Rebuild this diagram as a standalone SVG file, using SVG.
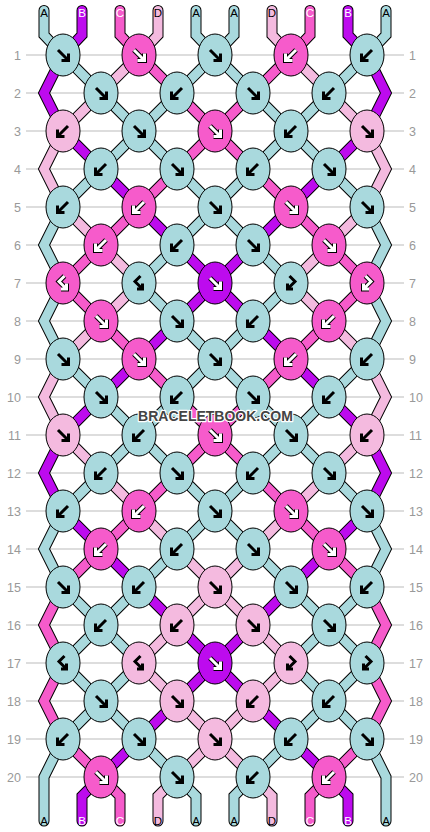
<svg xmlns="http://www.w3.org/2000/svg" width="430" height="832" viewBox="0 0 430 832">
<style>
.g{stroke:#bbb;stroke-width:1}
.n{font:12.5px "Liberation Sans",Arial,sans-serif;fill:#999}
.nl{text-anchor:end}
.lb{font:11.5px "Liberation Sans",Arial,sans-serif;text-anchor:middle}
.lk{fill:#000}.lw{fill:#fff}
.o{fill:none;stroke:#000;stroke-width:11;stroke-linejoin:miter;stroke-linecap:round}
.t{fill:none;stroke-width:9;stroke-linejoin:miter;stroke-linecap:round}
.sA{stroke:#a9d9dd}.sB{stroke:#bd0bee}.sC{stroke:#f65bcb}.sD{stroke:#f4badf}
ellipse{stroke:#000;stroke-width:1}
.A{fill:#a9d9dd}.B{fill:#bd0bee}.C{fill:#f65bcb}.D{fill:#f4badf}
.ab{fill:none;stroke:#000;stroke-width:3}
.ao{fill:none;stroke:#000;stroke-width:5}
.aw{fill:none;stroke:#fff;stroke-width:3}
.wm{font:bold 14px "Liberation Sans",Arial,sans-serif;fill:#444;stroke:#fff;stroke-width:2.5;paint-order:stroke;stroke-linejoin:round;text-anchor:middle}
</style>
<defs>
<path id="F" d="M-5,-5 L5,5 M-1.5,5.5 L5.5,5.5 L5.5,-1.5"/>
<path id="Bk" d="M5,-5 L-5,5 M1.5,5.5 L-5.5,5.5 L-5.5,-1.5"/>
<path id="BF" d="M1.5,-7 L-4,-1.5 L3,5.5 M-2,6 L3.5,6 L3.5,0.5"/>
<path id="FB" d="M-1.5,-7 L4,-1.5 L-3,5.5 M2,6 L-3.5,6 L-3.5,0.5"/>
</defs>
<g id="grid">
<line class="g" x1="26" y1="55" x2="404" y2="55"/><line class="g" x1="26" y1="93" x2="404" y2="93"/><line class="g" x1="26" y1="131" x2="404" y2="131"/><line class="g" x1="26" y1="169" x2="404" y2="169"/><line class="g" x1="26" y1="207" x2="404" y2="207"/><line class="g" x1="26" y1="245" x2="404" y2="245"/><line class="g" x1="26" y1="283" x2="404" y2="283"/><line class="g" x1="26" y1="321" x2="404" y2="321"/><line class="g" x1="26" y1="359" x2="404" y2="359"/><line class="g" x1="26" y1="397" x2="404" y2="397"/><line class="g" x1="26" y1="435" x2="404" y2="435"/><line class="g" x1="26" y1="473" x2="404" y2="473"/><line class="g" x1="26" y1="511" x2="404" y2="511"/><line class="g" x1="26" y1="549" x2="404" y2="549"/><line class="g" x1="26" y1="587" x2="404" y2="587"/><line class="g" x1="26" y1="625" x2="404" y2="625"/><line class="g" x1="26" y1="663" x2="404" y2="663"/><line class="g" x1="26" y1="701" x2="404" y2="701"/><line class="g" x1="26" y1="739" x2="404" y2="739"/><line class="g" x1="26" y1="777" x2="404" y2="777"/>
</g>
<g id="rownums">
<text class="n nl" x="21" y="59.5">1</text><text class="n nl" x="21" y="97.5">2</text><text class="n nl" x="21" y="135.5">3</text><text class="n nl" x="21" y="173.5">4</text><text class="n nl" x="21" y="211.5">5</text><text class="n nl" x="21" y="249.5">6</text><text class="n nl" x="21" y="287.5">7</text><text class="n nl" x="21" y="325.5">8</text><text class="n nl" x="21" y="363.5">9</text><text class="n nl" x="21" y="401.5">10</text><text class="n nl" x="21" y="439.5">11</text><text class="n nl" x="21" y="477.5">12</text><text class="n nl" x="21" y="515.5">13</text><text class="n nl" x="21" y="553.5">14</text><text class="n nl" x="21" y="591.5">15</text><text class="n nl" x="21" y="629.5">16</text><text class="n nl" x="21" y="667.5">17</text><text class="n nl" x="21" y="705.5">18</text><text class="n nl" x="21" y="743.5">19</text><text class="n nl" x="21" y="781.5">20</text>
<text class="n" x="409" y="59.5">1</text><text class="n" x="409" y="97.5">2</text><text class="n" x="409" y="135.5">3</text><text class="n" x="409" y="173.5">4</text><text class="n" x="409" y="211.5">5</text><text class="n" x="409" y="249.5">6</text><text class="n" x="409" y="287.5">7</text><text class="n" x="409" y="325.5">8</text><text class="n" x="409" y="363.5">9</text><text class="n" x="409" y="401.5">10</text><text class="n" x="409" y="439.5">11</text><text class="n" x="409" y="477.5">12</text><text class="n" x="409" y="515.5">13</text><text class="n" x="409" y="553.5">14</text><text class="n" x="409" y="591.5">15</text><text class="n" x="409" y="629.5">16</text><text class="n" x="409" y="667.5">17</text><text class="n" x="409" y="705.5">18</text><text class="n" x="409" y="743.5">19</text><text class="n" x="409" y="781.5">20</text>
</g>
<g id="connectors">
<path id="t0o" class="o" d="M44,10.5 V35 L63,55 L101,93 L139,131 L177,169 L215,207 L253,245 L291,283 L253,321 L215,359 L177,397 L139,435 L101,473 L63,511 L44,549 L63,587 L101,625 L139,663 L101,701 L63,739 L44,777 V821"/>
<path class="t sA" d="M44,10.5 V35 L63,55 L101,93 L139,131 L177,169 L215,207 L253,245 L291,283 L253,321 L215,359 L177,397 L139,435 L101,473 L63,511 L44,549 L63,587 L101,625 L139,663 L101,701 L63,739 L44,777 V821"/>
<path class="o" d="M82,10.5 V35 L63,55 L44,93 L63,131 L101,169 L139,207 L177,245 L215,283 L253,321 L291,359 L329,397 L367,435 L386,473 L367,511 L329,549 L291,587 L253,625 L215,663 L177,701 L139,739 L101,777 L82,796 V821"/>
<path class="t sB" d="M82,10.5 V35 L63,55 L44,93 L63,131 L101,169 L139,207 L177,245 L215,283 L253,321 L291,359 L329,397 L367,435 L386,473 L367,511 L329,549 L291,587 L253,625 L215,663 L177,701 L139,739 L101,777 L82,796 V821"/>
<path class="o" d="M120,10.5 V35 L139,55 L177,93 L215,131 L253,169 L291,207 L329,245 L367,283 L329,321 L291,359 L253,397 L215,435 L177,473 L139,511 L101,549 L63,587 L44,625 L63,663 L44,701 L63,739 L101,777 L120,796 V821"/>
<path class="t sC" d="M120,10.5 V35 L139,55 L177,93 L215,131 L253,169 L291,207 L329,245 L367,283 L329,321 L291,359 L253,397 L215,435 L177,473 L139,511 L101,549 L63,587 L44,625 L63,663 L44,701 L63,739 L101,777 L120,796 V821"/>
<path class="o" d="M158,10.5 V35 L139,55 L101,93 L63,131 L44,169 L63,207 L101,245 L139,283 L101,321 L63,359 L44,397 L63,435 L101,473 L139,511 L177,549 L215,587 L253,625 L291,663 L253,701 L215,739 L177,777 L158,796 V821"/>
<path class="t sD" d="M158,10.5 V35 L139,55 L101,93 L63,131 L44,169 L63,207 L101,245 L139,283 L101,321 L63,359 L44,397 L63,435 L101,473 L139,511 L177,549 L215,587 L253,625 L291,663 L253,701 L215,739 L177,777 L158,796 V821"/>
<path class="o" d="M196,10.5 V35 L215,55 L253,93 L291,131 L329,169 L367,207 L386,245 L367,283 L386,321 L367,359 L329,397 L291,435 L253,473 L215,511 L177,549 L139,587 L101,625 L63,663 L101,701 L139,739 L177,777 L196,796 V821"/>
<path class="t sA" d="M196,10.5 V35 L215,55 L253,93 L291,131 L329,169 L367,207 L386,245 L367,283 L386,321 L367,359 L329,397 L291,435 L253,473 L215,511 L177,549 L139,587 L101,625 L63,663 L101,701 L139,739 L177,777 L196,796 V821"/>
<path class="o" d="M234,10.5 V35 L215,55 L177,93 L139,131 L101,169 L63,207 L44,245 L63,283 L44,321 L63,359 L101,397 L139,435 L177,473 L215,511 L253,549 L291,587 L329,625 L367,663 L329,701 L291,739 L253,777 L234,796 V821"/>
<path class="t sA" d="M234,10.5 V35 L215,55 L177,93 L139,131 L101,169 L63,207 L44,245 L63,283 L44,321 L63,359 L101,397 L139,435 L177,473 L215,511 L253,549 L291,587 L329,625 L367,663 L329,701 L291,739 L253,777 L234,796 V821"/>
<path class="o" d="M272,10.5 V35 L291,55 L329,93 L367,131 L386,169 L367,207 L329,245 L291,283 L329,321 L367,359 L386,397 L367,435 L329,473 L291,511 L253,549 L215,587 L177,625 L139,663 L177,701 L215,739 L253,777 L272,796 V821"/>
<path class="t sD" d="M272,10.5 V35 L291,55 L329,93 L367,131 L386,169 L367,207 L329,245 L291,283 L329,321 L367,359 L386,397 L367,435 L329,473 L291,511 L253,549 L215,587 L177,625 L139,663 L177,701 L215,739 L253,777 L272,796 V821"/>
<path class="o" d="M310,10.5 V35 L291,55 L253,93 L215,131 L177,169 L139,207 L101,245 L63,283 L101,321 L139,359 L177,397 L215,435 L253,473 L291,511 L329,549 L367,587 L386,625 L367,663 L386,701 L367,739 L329,777 L310,796 V821"/>
<path class="t sC" d="M310,10.5 V35 L291,55 L253,93 L215,131 L177,169 L139,207 L101,245 L63,283 L101,321 L139,359 L177,397 L215,435 L253,473 L291,511 L329,549 L367,587 L386,625 L367,663 L386,701 L367,739 L329,777 L310,796 V821"/>
<path class="o" d="M348,10.5 V35 L367,55 L386,93 L367,131 L329,169 L291,207 L253,245 L215,283 L177,321 L139,359 L101,397 L63,435 L44,473 L63,511 L101,549 L139,587 L177,625 L215,663 L253,701 L291,739 L329,777 L348,796 V821"/>
<path class="t sB" d="M348,10.5 V35 L367,55 L386,93 L367,131 L329,169 L291,207 L253,245 L215,283 L177,321 L139,359 L101,397 L63,435 L44,473 L63,511 L101,549 L139,587 L177,625 L215,663 L253,701 L291,739 L329,777 L348,796 V821"/>
<path class="o" d="M386,10.5 V35 L367,55 L329,93 L291,131 L253,169 L215,207 L177,245 L139,283 L177,321 L215,359 L253,397 L291,435 L329,473 L367,511 L386,549 L367,587 L329,625 L291,663 L329,701 L367,739 L386,777 V821"/>
<path class="t sA" d="M386,10.5 V35 L367,55 L329,93 L291,131 L253,169 L215,207 L177,245 L139,283 L177,321 L215,359 L253,397 L291,435 L329,473 L367,511 L386,549 L367,587 L329,625 L291,663 L329,701 L367,739 L386,777 V821"/>
</g>
<g id="labels">
<text class="lb lk" x="44" y="17">A</text><text class="lb lw" x="82" y="17">B</text><text class="lb lw" x="120" y="17">C</text><text class="lb lk" x="158" y="17">D</text><text class="lb lk" x="196" y="17">A</text><text class="lb lk" x="234" y="17">A</text><text class="lb lk" x="272" y="17">D</text><text class="lb lw" x="310" y="17">C</text><text class="lb lw" x="348" y="17">B</text><text class="lb lk" x="386" y="17">A</text>
<text class="lb lk" x="44" y="825">A</text><text class="lb lw" x="82" y="825">B</text><text class="lb lw" x="120" y="825">C</text><text class="lb lk" x="158" y="825">D</text><text class="lb lk" x="196" y="825">A</text><text class="lb lk" x="234" y="825">A</text><text class="lb lk" x="272" y="825">D</text><text class="lb lw" x="310" y="825">C</text><text class="lb lw" x="348" y="825">B</text><text class="lb lk" x="386" y="825">A</text>
</g>
<g id="knots">
<g id="k1-1"><ellipse cx="63" cy="55" rx="17" ry="21" class="A"/><use href="#F" x="63" y="55" class="ab"/></g>
<g id="k1-2"><ellipse cx="139" cy="55" rx="17" ry="21" class="C"/><use href="#F" x="139" y="55" class="ao"/><use href="#F" x="139" y="55" class="aw"/></g>
<g id="k1-3"><ellipse cx="215" cy="55" rx="17" ry="21" class="A"/><use href="#F" x="215" y="55" class="ab"/></g>
<g id="k1-4"><ellipse cx="291" cy="55" rx="17" ry="21" class="C"/><use href="#Bk" x="291" y="55" class="ao"/><use href="#Bk" x="291" y="55" class="aw"/></g>
<g id="k1-5"><ellipse cx="367" cy="55" rx="17" ry="21" class="A"/><use href="#Bk" x="367" y="55" class="ab"/></g>

<g id="k2-1"><ellipse cx="101" cy="93" rx="17" ry="21" class="A"/><use href="#F" x="101" y="93" class="ab"/></g>
<g id="k2-2"><ellipse cx="177" cy="93" rx="17" ry="21" class="A"/><use href="#Bk" x="177" y="93" class="ab"/></g>
<g id="k2-3"><ellipse cx="253" cy="93" rx="17" ry="21" class="A"/><use href="#F" x="253" y="93" class="ab"/></g>
<g id="k2-4"><ellipse cx="329" cy="93" rx="17" ry="21" class="A"/><use href="#Bk" x="329" y="93" class="ab"/></g>

<g id="k3-1"><ellipse cx="63" cy="131" rx="17" ry="21" class="D"/><use href="#Bk" x="63" y="131" class="ab"/></g>
<g id="k3-2"><ellipse cx="139" cy="131" rx="17" ry="21" class="A"/><use href="#F" x="139" y="131" class="ab"/></g>
<g id="k3-3"><ellipse cx="215" cy="131" rx="17" ry="21" class="C"/><use href="#F" x="215" y="131" class="ao"/><use href="#F" x="215" y="131" class="aw"/></g>
<g id="k3-4"><ellipse cx="291" cy="131" rx="17" ry="21" class="A"/><use href="#Bk" x="291" y="131" class="ab"/></g>
<g id="k3-5"><ellipse cx="367" cy="131" rx="17" ry="21" class="D"/><use href="#F" x="367" y="131" class="ab"/></g>

<g id="k4-1"><ellipse cx="101" cy="169" rx="17" ry="21" class="A"/><use href="#Bk" x="101" y="169" class="ab"/></g>
<g id="k4-2"><ellipse cx="177" cy="169" rx="17" ry="21" class="A"/><use href="#F" x="177" y="169" class="ab"/></g>
<g id="k4-3"><ellipse cx="253" cy="169" rx="17" ry="21" class="A"/><use href="#Bk" x="253" y="169" class="ab"/></g>
<g id="k4-4"><ellipse cx="329" cy="169" rx="17" ry="21" class="A"/><use href="#F" x="329" y="169" class="ab"/></g>

<g id="k5-1"><ellipse cx="63" cy="207" rx="17" ry="21" class="A"/><use href="#Bk" x="63" y="207" class="ab"/></g>
<g id="k5-2"><ellipse cx="139" cy="207" rx="17" ry="21" class="C"/><use href="#Bk" x="139" y="207" class="ao"/><use href="#Bk" x="139" y="207" class="aw"/></g>
<g id="k5-3"><ellipse cx="215" cy="207" rx="17" ry="21" class="A"/><use href="#F" x="215" y="207" class="ab"/></g>
<g id="k5-4"><ellipse cx="291" cy="207" rx="17" ry="21" class="C"/><use href="#F" x="291" y="207" class="ao"/><use href="#F" x="291" y="207" class="aw"/></g>
<g id="k5-5"><ellipse cx="367" cy="207" rx="17" ry="21" class="A"/><use href="#F" x="367" y="207" class="ab"/></g>

<g id="k6-1"><ellipse cx="101" cy="245" rx="17" ry="21" class="C"/><use href="#Bk" x="101" y="245" class="ao"/><use href="#Bk" x="101" y="245" class="aw"/></g>
<g id="k6-2"><ellipse cx="177" cy="245" rx="17" ry="21" class="A"/><use href="#Bk" x="177" y="245" class="ab"/></g>
<g id="k6-3"><ellipse cx="253" cy="245" rx="17" ry="21" class="A"/><use href="#F" x="253" y="245" class="ab"/></g>
<g id="k6-4"><ellipse cx="329" cy="245" rx="17" ry="21" class="C"/><use href="#F" x="329" y="245" class="ao"/><use href="#F" x="329" y="245" class="aw"/></g>

<g id="k7-1"><ellipse cx="63" cy="283" rx="17" ry="21" class="C"/><use href="#BF" x="63" y="283" class="ao"/><use href="#BF" x="63" y="283" class="aw"/></g>
<g id="k7-2"><ellipse cx="139" cy="283" rx="17" ry="21" class="A"/><use href="#BF" x="139" y="283" class="ab"/></g>
<g id="k7-3"><ellipse cx="215" cy="283" rx="17" ry="21" class="B"/><use href="#F" x="215" y="283" class="ao"/><use href="#F" x="215" y="283" class="aw"/></g>
<g id="k7-4"><ellipse cx="291" cy="283" rx="17" ry="21" class="A"/><use href="#FB" x="291" y="283" class="ab"/></g>
<g id="k7-5"><ellipse cx="367" cy="283" rx="17" ry="21" class="C"/><use href="#FB" x="367" y="283" class="ao"/><use href="#FB" x="367" y="283" class="aw"/></g>

<g id="k8-1"><ellipse cx="101" cy="321" rx="17" ry="21" class="C"/><use href="#F" x="101" y="321" class="ao"/><use href="#F" x="101" y="321" class="aw"/></g>
<g id="k8-2"><ellipse cx="177" cy="321" rx="17" ry="21" class="A"/><use href="#F" x="177" y="321" class="ab"/></g>
<g id="k8-3"><ellipse cx="253" cy="321" rx="17" ry="21" class="A"/><use href="#Bk" x="253" y="321" class="ab"/></g>
<g id="k8-4"><ellipse cx="329" cy="321" rx="17" ry="21" class="C"/><use href="#Bk" x="329" y="321" class="ao"/><use href="#Bk" x="329" y="321" class="aw"/></g>

<g id="k9-1"><ellipse cx="63" cy="359" rx="17" ry="21" class="A"/><use href="#F" x="63" y="359" class="ab"/></g>
<g id="k9-2"><ellipse cx="139" cy="359" rx="17" ry="21" class="C"/><use href="#F" x="139" y="359" class="ao"/><use href="#F" x="139" y="359" class="aw"/></g>
<g id="k9-3"><ellipse cx="215" cy="359" rx="17" ry="21" class="A"/><use href="#F" x="215" y="359" class="ab"/></g>
<g id="k9-4"><ellipse cx="291" cy="359" rx="17" ry="21" class="C"/><use href="#Bk" x="291" y="359" class="ao"/><use href="#Bk" x="291" y="359" class="aw"/></g>
<g id="k9-5"><ellipse cx="367" cy="359" rx="17" ry="21" class="A"/><use href="#Bk" x="367" y="359" class="ab"/></g>

<g id="k10-1"><ellipse cx="101" cy="397" rx="17" ry="21" class="A"/><use href="#F" x="101" y="397" class="ab"/></g>
<g id="k10-2"><ellipse cx="177" cy="397" rx="17" ry="21" class="A"/><use href="#Bk" x="177" y="397" class="ab"/></g>
<g id="k10-3"><ellipse cx="253" cy="397" rx="17" ry="21" class="A"/><use href="#F" x="253" y="397" class="ab"/></g>
<g id="k10-4"><ellipse cx="329" cy="397" rx="17" ry="21" class="A"/><use href="#Bk" x="329" y="397" class="ab"/></g>

<g id="k11-1"><ellipse cx="63" cy="435" rx="17" ry="21" class="D"/><use href="#F" x="63" y="435" class="ab"/></g>
<g id="k11-2"><ellipse cx="139" cy="435" rx="17" ry="21" class="A"/><use href="#Bk" x="139" y="435" class="ab"/></g>
<g id="k11-3"><ellipse cx="215" cy="435" rx="17" ry="21" class="C"/><use href="#F" x="215" y="435" class="ao"/><use href="#F" x="215" y="435" class="aw"/></g>
<g id="k11-4"><ellipse cx="291" cy="435" rx="17" ry="21" class="A"/><use href="#F" x="291" y="435" class="ab"/></g>
<g id="k11-5"><ellipse cx="367" cy="435" rx="17" ry="21" class="D"/><use href="#Bk" x="367" y="435" class="ab"/></g>

<g id="k12-1"><ellipse cx="101" cy="473" rx="17" ry="21" class="A"/><use href="#Bk" x="101" y="473" class="ab"/></g>
<g id="k12-2"><ellipse cx="177" cy="473" rx="17" ry="21" class="A"/><use href="#F" x="177" y="473" class="ab"/></g>
<g id="k12-3"><ellipse cx="253" cy="473" rx="17" ry="21" class="A"/><use href="#Bk" x="253" y="473" class="ab"/></g>
<g id="k12-4"><ellipse cx="329" cy="473" rx="17" ry="21" class="A"/><use href="#F" x="329" y="473" class="ab"/></g>

<g id="k13-1"><ellipse cx="63" cy="511" rx="17" ry="21" class="A"/><use href="#Bk" x="63" y="511" class="ab"/></g>
<g id="k13-2"><ellipse cx="139" cy="511" rx="17" ry="21" class="C"/><use href="#Bk" x="139" y="511" class="ao"/><use href="#Bk" x="139" y="511" class="aw"/></g>
<g id="k13-3"><ellipse cx="215" cy="511" rx="17" ry="21" class="A"/><use href="#F" x="215" y="511" class="ab"/></g>
<g id="k13-4"><ellipse cx="291" cy="511" rx="17" ry="21" class="C"/><use href="#F" x="291" y="511" class="ao"/><use href="#F" x="291" y="511" class="aw"/></g>
<g id="k13-5"><ellipse cx="367" cy="511" rx="17" ry="21" class="A"/><use href="#F" x="367" y="511" class="ab"/></g>

<g id="k14-1"><ellipse cx="101" cy="549" rx="17" ry="21" class="C"/><use href="#Bk" x="101" y="549" class="ao"/><use href="#Bk" x="101" y="549" class="aw"/></g>
<g id="k14-2"><ellipse cx="177" cy="549" rx="17" ry="21" class="A"/><use href="#Bk" x="177" y="549" class="ab"/></g>
<g id="k14-3"><ellipse cx="253" cy="549" rx="17" ry="21" class="A"/><use href="#F" x="253" y="549" class="ab"/></g>
<g id="k14-4"><ellipse cx="329" cy="549" rx="17" ry="21" class="C"/><use href="#F" x="329" y="549" class="ao"/><use href="#F" x="329" y="549" class="aw"/></g>

<g id="k15-1"><ellipse cx="63" cy="587" rx="17" ry="21" class="A"/><use href="#F" x="63" y="587" class="ab"/></g>
<g id="k15-2"><ellipse cx="139" cy="587" rx="17" ry="21" class="A"/><use href="#Bk" x="139" y="587" class="ab"/></g>
<g id="k15-3"><ellipse cx="215" cy="587" rx="17" ry="21" class="D"/><use href="#F" x="215" y="587" class="ab"/></g>
<g id="k15-4"><ellipse cx="291" cy="587" rx="17" ry="21" class="A"/><use href="#F" x="291" y="587" class="ab"/></g>
<g id="k15-5"><ellipse cx="367" cy="587" rx="17" ry="21" class="A"/><use href="#Bk" x="367" y="587" class="ab"/></g>

<g id="k16-1"><ellipse cx="101" cy="625" rx="17" ry="21" class="A"/><use href="#Bk" x="101" y="625" class="ab"/></g>
<g id="k16-2"><ellipse cx="177" cy="625" rx="17" ry="21" class="D"/><use href="#Bk" x="177" y="625" class="ab"/></g>
<g id="k16-3"><ellipse cx="253" cy="625" rx="17" ry="21" class="D"/><use href="#F" x="253" y="625" class="ab"/></g>
<g id="k16-4"><ellipse cx="329" cy="625" rx="17" ry="21" class="A"/><use href="#F" x="329" y="625" class="ab"/></g>

<g id="k17-1"><ellipse cx="63" cy="663" rx="17" ry="21" class="A"/><use href="#BF" x="63" y="663" class="ab"/></g>
<g id="k17-2"><ellipse cx="139" cy="663" rx="17" ry="21" class="D"/><use href="#BF" x="139" y="663" class="ab"/></g>
<g id="k17-3"><ellipse cx="215" cy="663" rx="17" ry="21" class="B"/><use href="#F" x="215" y="663" class="ao"/><use href="#F" x="215" y="663" class="aw"/></g>
<g id="k17-4"><ellipse cx="291" cy="663" rx="17" ry="21" class="D"/><use href="#FB" x="291" y="663" class="ab"/></g>
<g id="k17-5"><ellipse cx="367" cy="663" rx="17" ry="21" class="A"/><use href="#FB" x="367" y="663" class="ab"/></g>

<g id="k18-1"><ellipse cx="101" cy="701" rx="17" ry="21" class="A"/><use href="#F" x="101" y="701" class="ab"/></g>
<g id="k18-2"><ellipse cx="177" cy="701" rx="17" ry="21" class="D"/><use href="#F" x="177" y="701" class="ab"/></g>
<g id="k18-3"><ellipse cx="253" cy="701" rx="17" ry="21" class="D"/><use href="#Bk" x="253" y="701" class="ab"/></g>
<g id="k18-4"><ellipse cx="329" cy="701" rx="17" ry="21" class="A"/><use href="#Bk" x="329" y="701" class="ab"/></g>

<g id="k19-1"><ellipse cx="63" cy="739" rx="17" ry="21" class="A"/><use href="#Bk" x="63" y="739" class="ab"/></g>
<g id="k19-2"><ellipse cx="139" cy="739" rx="17" ry="21" class="A"/><use href="#F" x="139" y="739" class="ab"/></g>
<g id="k19-3"><ellipse cx="215" cy="739" rx="17" ry="21" class="D"/><use href="#F" x="215" y="739" class="ab"/></g>
<g id="k19-4"><ellipse cx="291" cy="739" rx="17" ry="21" class="A"/><use href="#Bk" x="291" y="739" class="ab"/></g>
<g id="k19-5"><ellipse cx="367" cy="739" rx="17" ry="21" class="A"/><use href="#F" x="367" y="739" class="ab"/></g>

<g id="k20-1"><ellipse cx="101" cy="777" rx="17" ry="21" class="C"/><use href="#F" x="101" y="777" class="ao"/><use href="#F" x="101" y="777" class="aw"/></g>
<g id="k20-2"><ellipse cx="177" cy="777" rx="17" ry="21" class="A"/><use href="#F" x="177" y="777" class="ab"/></g>
<g id="k20-3"><ellipse cx="253" cy="777" rx="17" ry="21" class="A"/><use href="#Bk" x="253" y="777" class="ab"/></g>
<g id="k20-4"><ellipse cx="329" cy="777" rx="17" ry="21" class="C"/><use href="#Bk" x="329" y="777" class="ao"/><use href="#Bk" x="329" y="777" class="aw"/></g>
</g>
<text class="wm" x="215.5" y="421">BRACELETBOOK.COM</text>
</svg>
